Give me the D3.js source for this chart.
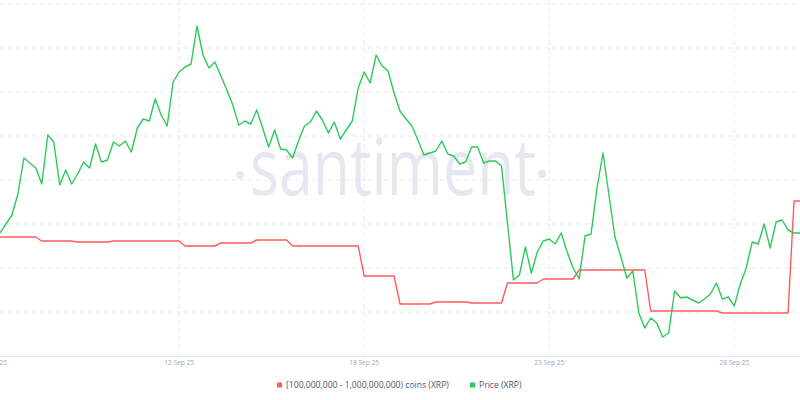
<!DOCTYPE html>
<html lang="en">
<head>
  <meta charset="UTF-8">
  <title>XRP holders vs price</title>
  <script src="https://d3js.org/d3.v7.min.js"></script>
  <style>
    body {
      margin: 0;
      padding: 0;
      background: #fff;
    }

    svg {
      display: block;
      font-family: "Open Sans", "Noto Sans", sans-serif;
    }

    .grid line {
      stroke: #e9ebf3;
      stroke-width: 1;
      stroke-dasharray: 5,3;
    }

    .tick-label {
      font-size: 6.6px;
      fill: #9ea6bd;
    }

    .legend-label {
      font-size: 8.6px;
      fill: #4f5569;
    }
  </style>
</head>
<body>
  <script>
    // x axis: one point every 4h, labels at fixed point indexes
    const tickIndex = [-1, 30, 61, 92, 123];
    const tickLabels = ["7 Sep 25", "12 Sep 25", "18 Sep 25", "23 Sep 25", "28 Sep 25"];

    // Price (XRP), USD
    const price = [
      2.923, 2.932, 2.941, 2.962, 2.998, 2.993, 2.988, 2.972, 3.021, 3.014,
      2.971, 2.986, 2.972, 2.982, 2.994, 2.988, 3.012, 2.994, 2.996, 3.014,
      3.010, 3.015, 3.004, 3.028, 3.037, 3.035, 3.057, 3.041, 3.030, 3.074,
      3.084, 3.089, 3.092, 3.130, 3.101, 3.088, 3.094, 3.080, 3.066, 3.051,
      3.031, 3.035, 3.032, 3.046, 3.028, 3.009, 3.026, 3.007, 3.006, 2.998,
      3.015, 3.030, 3.034, 3.045, 3.036, 3.023, 3.034, 3.017, 3.026, 3.035,
      3.068, 3.084, 3.073, 3.101, 3.090, 3.085, 3.063, 3.045, 3.037, 3.030,
      3.016, 3.001, 3.003, 3.005, 3.015, 3.002, 3.000, 2.992, 2.994, 3.009,
      3.009, 2.993, 2.995, 2.995, 2.990, 2.933, 2.876, 2.881, 2.909, 2.883,
      2.904, 2.915, 2.917, 2.912, 2.923, 2.904, 2.888, 2.877, 2.920, 2.922,
      2.968, 3.003, 2.961, 2.919, 2.899, 2.878, 2.885, 2.843, 2.828, 2.838,
      2.833, 2.819, 2.823, 2.865, 2.858, 2.859, 2.856, 2.853, 2.857, 2.862,
      2.873, 2.857, 2.859, 2.850, 2.872, 2.888, 2.914, 2.912, 2.932, 2.908,
      2.934, 2.936, 2.926, 2.923, 2.923
    ];

    // [100,000,000 - 1,000,000,000) coins holders balance, billions of XRP
    const holdings = [
      7.363, 7.363, 7.363, 7.363, 7.363, 7.363, 7.363,
      7.359, 7.359, 7.359, 7.359, 7.359, 7.359,
      7.358, 7.358, 7.358, 7.358, 7.358, 7.358,
      7.359, 7.359, 7.359, 7.359, 7.359, 7.359, 7.359, 7.359, 7.359, 7.359, 7.359, 7.359,
      7.354, 7.354, 7.354, 7.354, 7.354, 7.354,
      7.357, 7.357, 7.357, 7.357, 7.357, 7.357,
      7.360, 7.360, 7.360, 7.360, 7.360, 7.360,
      7.354, 7.354, 7.354, 7.354, 7.354, 7.354, 7.354, 7.354, 7.354, 7.354, 7.354, 7.354,
      7.324, 7.324, 7.324, 7.324, 7.324, 7.324,
      7.296, 7.296, 7.296, 7.296, 7.296, 7.296,
      7.298, 7.298, 7.298, 7.298, 7.298, 7.298,
      7.297, 7.297, 7.297, 7.297, 7.297, 7.297,
      7.317, 7.317, 7.317, 7.317, 7.317, 7.317,
      7.321, 7.321, 7.321, 7.321, 7.321, 7.321,
      7.330, 7.330, 7.330, 7.330, 7.330, 7.330, 7.330, 7.330, 7.330, 7.330, 7.330, 7.330,
      7.289, 7.289, 7.289, 7.289, 7.289, 7.289, 7.289, 7.289, 7.289, 7.289, 7.289, 7.289,
      7.287, 7.287, 7.287, 7.287, 7.287, 7.287, 7.287, 7.287, 7.287, 7.287, 7.287, 7.287,
      7.399, 7.399
    ];

    const seriesNames = ["[100,000,000 - 1,000,000,000) coins (XRP)", "Price (XRP)"];
    const seriesColors = ["#ff5c5c", "#2ec95a"];

    const width = 800;
    const height = 400;
    const plotBottom = 356;
    const plotTop = 4;

    const svg = d3.select("body").append("svg")
      .attr("width", width)
      .attr("height", height);

    // scales: shared x over point index, independent hidden y scales
    const x = d3.scaleLinear().domain([0, price.length - 1]).range([0, width]);
    const yPrice = d3.scaleLinear().domain([2.80, 3.152]).range([plotBottom, plotTop]);
    const yHold = d3.scaleLinear().domain([7.244, 7.596]).range([plotBottom, plotTop]);

    // horizontal grid from the price scale
    const gridValues = d3.range(1, 9).map(k => 2.80 + k * 0.044);
    svg.append("g")
      .attr("class", "grid")
      .selectAll("line")
      .data(gridValues)
      .enter().append("line")
      .attr("x1", 0)
      .attr("x2", width)
      .attr("y1", d => yPrice(d))
      .attr("y2", d => yPrice(d));

    // vertical grid at the date ticks
    svg.append("g")
      .attr("class", "grid")
      .selectAll("line")
      .data(tickIndex)
      .enter().append("line")
      .attr("x1", d => x(d))
      .attr("x2", d => x(d))
      .attr("y1", 0)
      .attr("y2", plotBottom);

    // watermark
    const mark = svg.append("g").attr("fill", "#e5e8f1");
    mark.append("text")
      .attr("x", 250)
      .attr("y", 195)
      .attr("font-size", 78)
      .attr("textLength", 286)
      .attr("lengthAdjust", "spacingAndGlyphs")
      .text("santiment");
    mark.append("circle").attr("cx", 240).attr("cy", 175).attr("r", 4);
    mark.append("circle").attr("cx", 542).attr("cy", 174).attr("r", 4);

    // bottom axis
    svg.append("line")
      .attr("x1", 0)
      .attr("x2", width)
      .attr("y1", plotBottom + 0.5)
      .attr("y2", plotBottom + 0.5)
      .attr("stroke", "#e6e8f0");

    svg.append("g")
      .selectAll("text")
      .data(tickIndex)
      .enter().append("text")
      .attr("class", "tick-label")
      .attr("x", d => x(d))
      .attr("y", 365)
      .attr("text-anchor", "middle")
      .text((d, i) => tickLabels[i]);

    // lines
    const holdLine = d3.line()
      .x((d, i) => x(i))
      .y(d => yHold(d));

    const priceLine = d3.line()
      .x((d, i) => x(i))
      .y(d => yPrice(d));

    svg.append("path")
      .datum(holdings)
      .attr("fill", "none")
      .attr("stroke", seriesColors[0])
      .attr("stroke-width", 1.4)
      .attr("stroke-linejoin", "round")
      .attr("d", holdLine);

    svg.append("path")
      .datum(price)
      .attr("fill", "none")
      .attr("stroke", seriesColors[1])
      .attr("stroke-width", 1.4)
      .attr("stroke-linejoin", "round")
      .attr("d", priceLine);

    // legend
    const legendX = [277, 470];
    const legend = svg.append("g")
      .selectAll("g")
      .data(seriesNames)
      .enter().append("g")
      .attr("transform", (d, i) => `translate(${legendX[i]}, 385)`);

    legend.append("rect")
      .attr("x", 0)
      .attr("y", -2.5)
      .attr("width", 5)
      .attr("height", 5)
      .attr("fill", (d, i) => seriesColors[i]);

    legend.append("text")
      .attr("class", "legend-label")
      .attr("x", 9)
      .attr("y", 3)
      .text(d => d);
  </script>
</body>
</html>
